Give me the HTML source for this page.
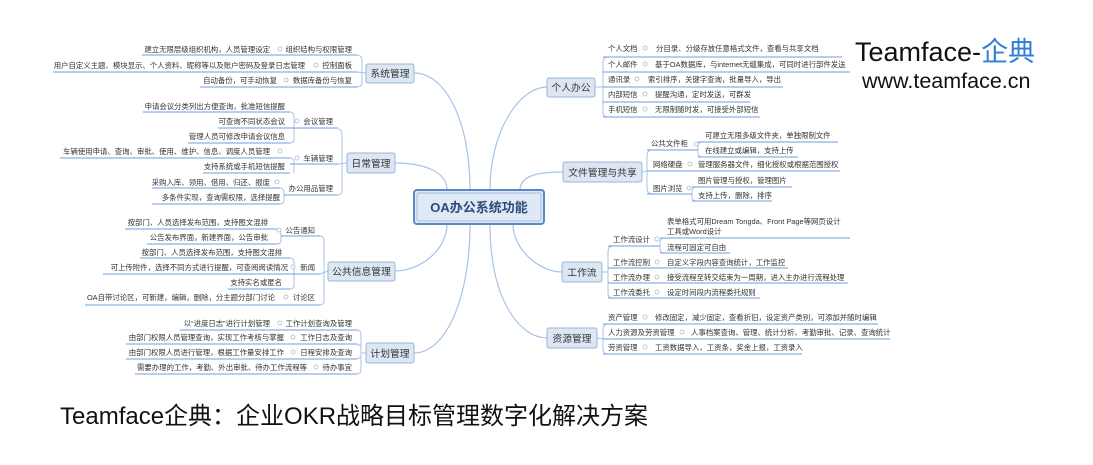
<!DOCTYPE html>
<html><head><meta charset="utf-8"><style>
html,body{margin:0;padding:0;background:#fff;}
svg{display:block;font-family:"Liberation Sans","Noto Sans CJK SC",sans-serif;}
.t{font-size:7.4px;fill:#333;}
.b{font-size:9.8px;fill:#333;}
.u{stroke:#6f9de0;stroke-width:1;fill:none;}
.k{stroke:#a9c3e8;stroke-width:1;fill:none;}
.m{stroke:#a9c3e8;stroke-width:1.2;fill:none;}
.o{fill:#fff;stroke:#a9bcd6;stroke-width:0.8;}
.box{fill:#dde7f3;stroke:#9ab6da;stroke-width:1;}
</style></head><body>
<svg width="1093" height="465" viewBox="0 0 1093 465">
<path class="m" d="M470,190 C470,120 445,73 414,73"/>
<path class="m" d="M447,190 C447,170 420,163 395,163"/>
<path class="m" d="M490,190 C490,130 520,87 547,87"/>
<path class="m" d="M520,190 C520,175 540,172 563,172"/>
<path class="m" d="M447,224 C447,250 420,271 395,271"/>
<path class="m" d="M470,224 C470,300 445,353 414,353"/>
<path class="m" d="M490,224 C490,300 520,338 547,338"/>
<path class="m" d="M513,224 C513,250 540,272 562,272"/>

<rect x="414" y="190" width="130" height="34" rx="3" fill="#dfe8f5" stroke="#5b86c8" stroke-width="2"/>
<rect x="417" y="193" width="124" height="28" rx="2" fill="none" stroke="#8fb0de" stroke-width="0.8"/>
<text x="479" y="212" text-anchor="middle" style="font-size:13px;font-weight:bold;fill:#2d4a78">OA办公系统功能</text>

<path class="k" d="M357,55 Q362,55 362,62 L362,82 Q362,87 357,87 M357,72 L366,73"/>
<line class="u" x1="142" y1="55" x2="357" y2="55"/>
<line class="u" x1="53" y1="72" x2="357" y2="72"/>
<line class="u" x1="200" y1="87" x2="357" y2="87"/>
<text class="t" x="270" y="52" text-anchor="end">建立无限层级组织机构，人员管理设定</text>
<circle class="o" cx="280" cy="49" r="2"/>
<text class="t" x="352" y="52" text-anchor="end">组织结构与权限管理</text>
<text class="t" x="305" y="68" text-anchor="end">用户自定义主题、模块显示、个人资料、昵称等以及账户密码及登录日志管理</text>
<circle class="o" cx="316" cy="65" r="2"/>
<text class="t" x="352" y="68" text-anchor="end">控制面板</text>
<text class="t" x="277" y="83" text-anchor="end">自动备份，可手动恢复</text>
<circle class="o" cx="286" cy="80" r="2"/>
<text class="t" x="352" y="83" text-anchor="end">数据库备份与恢复</text>
<rect class="box" x="366" y="64" width="48" height="19" rx="2"/>
<text class="b" x="390" y="77" text-anchor="middle">系统管理</text>

<path class="k" d="M338,129 Q342,129 342,136 L342,190 Q342,195 338,195 M338,164 L347,163"/>
<path class="k" d="M290,112 Q294,112 294,117 L294,139 Q294,143 290,143"/>
<path class="k" d="M290,158 Q294,158 294,163 L294,173"/>
<path class="k" d="M280,188 Q284,188 284,193 L284,200 Q284,204 280,204"/>
<line class="u" x1="143" y1="112" x2="290" y2="112"/>
<line class="u" x1="218" y1="128" x2="338" y2="128"/>
<line class="u" x1="188" y1="143" x2="290" y2="143"/>
<line class="u" x1="60" y1="158" x2="290" y2="158"/>
<line class="u" x1="203" y1="173" x2="290" y2="173"/>
<line class="u" x1="290" y1="164" x2="338" y2="164"/>
<line class="u" x1="152" y1="188" x2="280" y2="188"/>
<line class="u" x1="152" y1="204" x2="280" y2="204"/>
<line class="u" x1="284" y1="195" x2="338" y2="195"/>
<text class="t" x="285" y="109" text-anchor="end">申请会议分类列出方便查询，批准短信提醒</text>
<text class="t" x="285" y="124" text-anchor="end">可查询不同状态会议</text>
<circle class="o" cx="297" cy="121" r="2"/>
<text class="t" x="333" y="124" text-anchor="end">会议管理</text>
<text class="t" x="285" y="139" text-anchor="end">管理人员可修改申请会议信息</text>
<text class="t" x="270" y="154" text-anchor="end">车辆使用申请、查询、审批、使用、维护、信息、调度人员管理</text>
<circle class="o" cx="280" cy="151" r="2"/>
<circle class="o" cx="297" cy="158" r="2"/>
<text class="t" x="333" y="161" text-anchor="end">车辆管理</text>
<text class="t" x="285" y="169" text-anchor="end">支持系统或手机短信提醒</text>
<text class="t" x="270" y="185" text-anchor="end">采购入库、领用、借用、归还、报废</text>
<circle class="o" cx="277" cy="182" r="2"/>
<text class="t" x="333" y="191" text-anchor="end">办公用品管理</text>
<text class="t" x="280" y="200" text-anchor="end">多条件实现，查询需权限，选择提醒</text>
<rect class="box" x="347" y="153" width="48" height="20" rx="2"/>
<text class="b" x="371" y="167" text-anchor="middle">日常管理</text>

<path class="k" d="M320,236 Q324,236 324,242 L324,300 Q324,305 320,305 M320,274 L328,271"/>
<path class="k" d="M277,229 Q281,229 281,234 L281,240 Q281,244 277,244"/>
<path class="k" d="M290,258 Q294,258 294,263 L294,285 Q294,289 290,289"/>
<line class="u" x1="125" y1="229" x2="277" y2="229"/>
<line class="u" x1="147" y1="244" x2="277" y2="244"/>
<line class="u" x1="281" y1="236" x2="320" y2="236"/>
<line class="u" x1="140" y1="258" x2="290" y2="258"/>
<line class="u" x1="103" y1="274" x2="320" y2="274"/>
<line class="u" x1="228" y1="289" x2="290" y2="289"/>
<line class="u" x1="85" y1="305" x2="320" y2="305"/>
<text class="t" x="268" y="225" text-anchor="end">按部门、人员选择发布范围，支持图文混排</text>
<circle class="o" cx="279" cy="230" r="2"/>
<text class="t" x="315" y="233" text-anchor="end">公告通知</text>
<text class="t" x="268" y="240" text-anchor="end">公告发布界面，新建界面，公告审批</text>
<text class="t" x="282" y="255" text-anchor="end">按部门、人员选择发布范围，支持图文混排</text>
<text class="t" x="288" y="270" text-anchor="end">可上传附件，选择不同方式进行提醒，可查阅阅读情况</text>
<circle class="o" cx="293" cy="267" r="2"/>
<text class="t" x="315" y="270" text-anchor="end">新闻</text>
<text class="t" x="282" y="285" text-anchor="end">支持实名或匿名</text>
<text class="t" x="275" y="300" text-anchor="end">OA自带讨论区，可新建，编辑，删除，分主题分部门讨论</text>
<circle class="o" cx="286" cy="297" r="2"/>
<text class="t" x="315" y="300" text-anchor="end">讨论区</text>
<rect class="box" x="328" y="262" width="67" height="19" rx="2"/>
<text class="b" x="361.5" y="275" text-anchor="middle">公共信息管理</text>

<path class="k" d="M357,330 Q361,330 361,336 L361,369 Q361,374 357,374 M357,344 L361,346 M357,359 L361,357 M361,353 L366,353"/>
<line class="u" x1="180" y1="330" x2="357" y2="330"/>
<line class="u" x1="126" y1="344" x2="357" y2="344"/>
<line class="u" x1="126" y1="359" x2="357" y2="359"/>
<line class="u" x1="135" y1="374" x2="357" y2="374"/>
<text class="t" x="270" y="326" text-anchor="end">以“进度日志”进行计划管理</text>
<circle class="o" cx="280" cy="323" r="2"/>
<text class="t" x="352" y="326" text-anchor="end">工作计划查询及管理</text>
<text class="t" x="284" y="340" text-anchor="end">由部门权限人员管理查询，实现工作考核与掌握</text>
<circle class="o" cx="293" cy="337" r="2"/>
<text class="t" x="352" y="340" text-anchor="end">工作日志及查询</text>
<text class="t" x="284" y="355" text-anchor="end">由部门权限人员进行管理，根据工作量安排工作</text>
<circle class="o" cx="293" cy="352" r="2"/>
<text class="t" x="352" y="355" text-anchor="end">日程安排及查询</text>
<text class="t" x="307" y="370" text-anchor="end">需要办理的工作，考勤、外出审批、待办工作流程等</text>
<circle class="o" cx="316" cy="367" r="2"/>
<text class="t" x="352" y="370" text-anchor="end">待办事宜</text>
<rect class="box" x="366" y="343" width="48" height="20" rx="2"/>
<text class="b" x="390" y="357" text-anchor="middle">计划管理</text>

<path class="k" d="M608,57 Q603,57 603,63 L603,112 Q603,117 608,117 M595,87 L603,87"/>
<line class="u" x1="603" y1="57" x2="842" y2="57"/>
<line class="u" x1="603" y1="72" x2="850" y2="72"/>
<line class="u" x1="603" y1="87" x2="783" y2="87"/>
<line class="u" x1="603" y1="102" x2="750" y2="102"/>
<line class="u" x1="603" y1="117" x2="760" y2="117"/>
<text class="t" x="608" y="51">个人文档</text><circle class="o" cx="645" cy="48" r="2"/>
<text class="t" x="656" y="51">分目录、分级存放任意格式文件，查看与共享文档</text>
<text class="t" x="608" y="67">个人邮件</text><circle class="o" cx="645" cy="64" r="2"/>
<text class="t" x="655" y="67">基于OA数据库，与internet无缝集成，可同时进行部件发送</text>
<text class="t" x="608" y="82">通讯录</text><circle class="o" cx="637" cy="79" r="2"/>
<text class="t" x="648" y="82">索引排序，关键字查询，批量导入，导出</text>
<text class="t" x="608" y="97">内部短信</text><circle class="o" cx="645" cy="94" r="2"/>
<text class="t" x="655" y="97">提醒沟通，定时发送，可群发</text>
<text class="t" x="608" y="112">手机短信</text><circle class="o" cx="645" cy="109" r="2"/>
<text class="t" x="655" y="112">无限制随时发，可接受外部短信</text>
<rect class="box" x="547" y="78" width="48" height="19" rx="2"/>
<text class="b" x="571" y="91" text-anchor="middle">个人办公</text>

<path class="k" d="M652,150 Q647,150 647,156 L647,188 Q647,194 652,194 M642,172 L647,171"/>
<path class="k" d="M702,142 Q698,142 698,146 L698,153 Q698,157 702,157"/>
<path class="k" d="M696,187 Q692,187 692,191 L692,197 Q692,201 696,201"/>
<line class="u" x1="647" y1="150" x2="698" y2="150"/>
<line class="u" x1="698" y1="142" x2="838" y2="142"/>
<line class="u" x1="698" y1="157" x2="798" y2="157"/>
<line class="u" x1="647" y1="171" x2="840" y2="171"/>
<line class="u" x1="647" y1="194" x2="692" y2="194"/>
<line class="u" x1="692" y1="187" x2="792" y2="187"/>
<line class="u" x1="692" y1="201" x2="772" y2="201"/>
<text class="t" x="651" y="146">公共文件柜</text><circle class="o" cx="696" cy="144" r="2"/>
<text class="t" x="705" y="138">可建立无限多级文件夹，单独限制文件</text>
<text class="t" x="705" y="153">在线建立或编辑，支持上传</text>
<text class="t" x="653" y="167">网络硬盘</text><circle class="o" cx="690" cy="164" r="2"/>
<text class="t" x="698" y="167">管理服务器文件，细化授权或根据范围授权</text>
<text class="t" x="653" y="191">图片浏览</text><circle class="o" cx="689" cy="188" r="2"/>
<text class="t" x="698" y="183">图片管理与授权，管理图片</text>
<text class="t" x="698" y="198">支持上传，删除，排序</text>
<rect class="box" x="563" y="162" width="79" height="20" rx="2"/>
<text class="b" x="602.5" y="176" text-anchor="middle">文件管理与共享</text>

<path class="k" d="M613,246 Q608,246 608,252 L608,293 Q608,298 613,298 M602,272 L608,272"/>
<path class="k" d="M664,238 Q660,238 660,243 L660,249 Q660,253 664,253"/>
<line class="u" x1="608" y1="246" x2="660" y2="246"/>
<line class="u" x1="660" y1="238" x2="850" y2="238"/>
<line class="u" x1="660" y1="253" x2="730" y2="253"/>
<line class="u" x1="608" y1="268" x2="788" y2="268"/>
<line class="u" x1="608" y1="283" x2="848" y2="283"/>
<line class="u" x1="608" y1="298" x2="760" y2="298"/>
<text class="t" x="613" y="242">工作流设计</text><circle class="o" cx="657" cy="239" r="2"/>
<text class="t" x="667" y="224">表单格式可用Dream Tongda、Front Page等网页设计</text>
<text class="t" x="667" y="234">工具或Word设计</text>
<text class="t" x="667" y="250">流程可固定可自由</text>
<text class="t" x="613" y="265">工作流控制</text><circle class="o" cx="657" cy="262" r="2"/>
<text class="t" x="667" y="265">自定义字段内容查询统计，工作监控</text>
<text class="t" x="613" y="280">工作流办理</text><circle class="o" cx="657" cy="277" r="2"/>
<text class="t" x="667" y="280">接受流程至转交结束为一周期，进入主办进行流程处理</text>
<text class="t" x="613" y="295">工作流委托</text><circle class="o" cx="657" cy="292" r="2"/>
<text class="t" x="667" y="295">设定时间段内流程委托规则</text>
<rect class="box" x="562" y="262" width="40" height="20" rx="2"/>
<text class="b" x="582" y="276" text-anchor="middle">工作流</text>

<path class="k" d="M608,324 Q603,324 603,330 L603,349 Q603,354 608,354 M597,338 L603,339"/>
<line class="u" x1="603" y1="324" x2="878" y2="324"/>
<line class="u" x1="603" y1="339" x2="890" y2="339"/>
<line class="u" x1="603" y1="354" x2="802" y2="354"/>
<text class="t" x="608" y="320">资产管理</text><circle class="o" cx="645" cy="317" r="2"/>
<text class="t" x="655" y="320">修改固定，减少固定，查看折旧，设定资产类别，可添加并随时编辑</text>
<text class="t" x="608" y="335">人力资源及劳资管理</text><circle class="o" cx="682" cy="332" r="2"/>
<text class="t" x="691" y="335">人事档案查询、管理、统计分析、考勤审批、记录、查询统计</text>
<text class="t" x="608" y="350">劳资管理</text><circle class="o" cx="645" cy="347" r="2"/>
<text class="t" x="655" y="350">工资数据导入，工资条，奖金上报，工资录入</text>
<rect class="box" x="547" y="328" width="50" height="20" rx="2"/>
<text class="b" x="572" y="342" text-anchor="middle">资源管理</text>

<text x="855" y="61" style="font-size:27px;fill:#111">Teamface-<tspan style="fill:#2f7ed8">企典</tspan></text>
<text x="862" y="88" style="font-size:21.5px;fill:#111">www.teamface.cn</text>
<text x="60" y="424" style="font-size:24px;fill:#111">Teamface企典：企业OKR战略目标管理数字化解决方案</text>
</svg>
</body></html>
